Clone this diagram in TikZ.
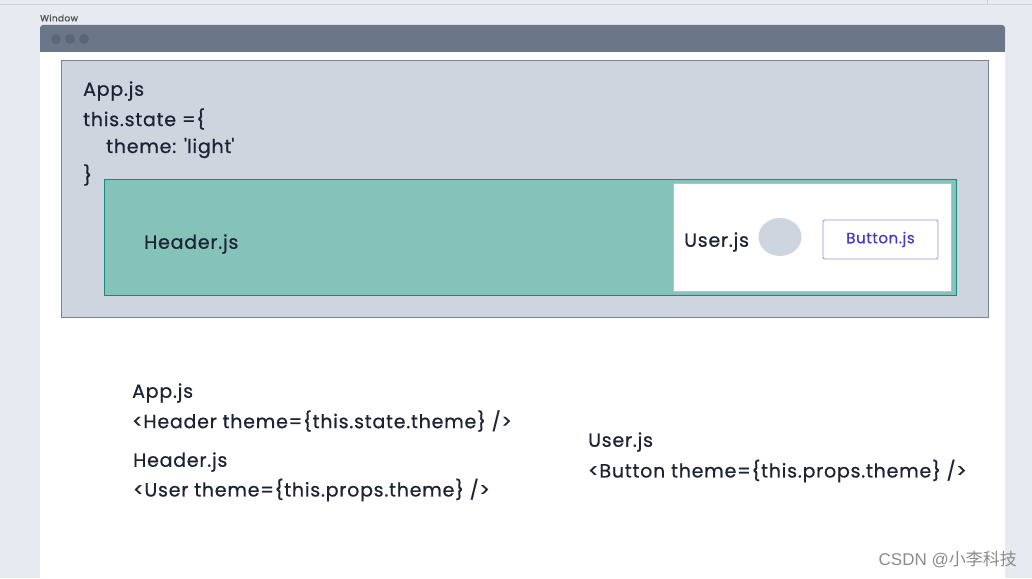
\documentclass[tikz,border=0pt]{standalone}
\usepackage{fontspec}
\setmainfont[LetterSpace=4,FakeBold=0.6]{Poppins}
\newfontfamily\cjkfont{Noto Sans CJK SC}
\newfontfamily\markfont{Liberation Sans}
\usetikzlibrary{shapes.geometric}

\definecolor{pagebg}{HTML}{E8EAF1}
\definecolor{barcol}{HTML}{6B7788}
\definecolor{dotcol}{HTML}{5C6676}
\definecolor{appfill}{HTML}{CFD5DE}
\definecolor{appline}{HTML}{7A8290}
\definecolor{headfill}{HTML}{85C2BA}
\definecolor{headline}{HTML}{1A8A7A}
\definecolor{inkcol}{HTML}{1E2235}
\definecolor{btnline}{HTML}{9A8FE0}
\definecolor{btntext}{HTML}{4A3ABF}

\tikzset{
  codetext/.style={anchor=west, inner sep=0pt, text=inkcol,
    font=\fontsize{19}{22}\selectfont},
}

\begin{document}
\begin{tikzpicture}[x=1pt, y=-1pt]
    \useasboundingbox (0,0) rectangle (1032,578);
    \fill[pagebg] (0,0) rectangle (1032,578);
    \draw[gray!35, thin] (0,4) -- (1032,4);
    \draw[gray!35, thin] (987,0) -- (987,4);

    % window frame
    \node[anchor=west, inner sep=0pt, text=black!70, font=\fontsize{9}{10}\selectfont] (winlabel) at (40,18) {Window};
    \fill[white] (40,40) rectangle (1005,578);
    \fill[barcol, rounded corners=3pt] (40,25) rectangle (1005,52);
    \fill[barcol] (40,40) rectangle (1005,52);
    \foreach \x in {56,70,84}
        \fill[dotcol] (\x,39) circle (5);

    % App.js
    \filldraw[fill=appfill, draw=appline, thick] (61,60) rectangle (988,317);
    \node[codetext] (appname) at (83,91) {App.js};
    \node[codetext] (appstate) at (83,119) {this.state =\{};
    \node[codetext] (apptheme) at (106,148) {theme: \textquotesingle light\textquotesingle};
    \node[codetext] (appclose) at (83,175) {\}};

    % Header.js
    \filldraw[fill=headfill, draw=headline, thick] (104,179) rectangle (956,295);
    \node[codetext] (headname) at (144,244) {Header.js};

    % User.js
    \filldraw[fill=white, draw=black!25] (673,183) rectangle (951,291);
    \node[codetext] (username) at (684,242) {User.js};
    \node[ellipse, fill=appfill, minimum width=43pt, minimum height=38pt, inner sep=0pt] (avatar) at (780,237) {};
    \node[draw=btnline, fill=white, rounded corners=2pt, thick, minimum width=115pt, minimum height=39pt,
          inner sep=0pt, text=btntext, font=\fontsize{15}{18}\selectfont] (button) at (880.5,239.5) {Button.js};

    % props passed down
    \node[codetext] (lowapp) at (132,393) {App.js};
    \node[codetext] (lowapptag) at (132,421) {<Header theme=\{this.state.theme\} />};
    \node[codetext] (lowhead) at (133,462) {Header.js};
    \node[codetext] (lowheadtag) at (133,490) {<User theme=\{this.props.theme\} />};
    \node[codetext] (lowuser) at (588,442) {User.js};
    \node[codetext] (lowusertag) at (588,471) {<Button theme=\{this.props.theme\} />};

    \node[anchor=east, inner sep=0pt, text=black!45, font=\markfont\fontsize{17}{19}\selectfont] (mark) at (1017,560) {CSDN @{\cjkfont 小李科技}};
\end{tikzpicture}
\end{document}
